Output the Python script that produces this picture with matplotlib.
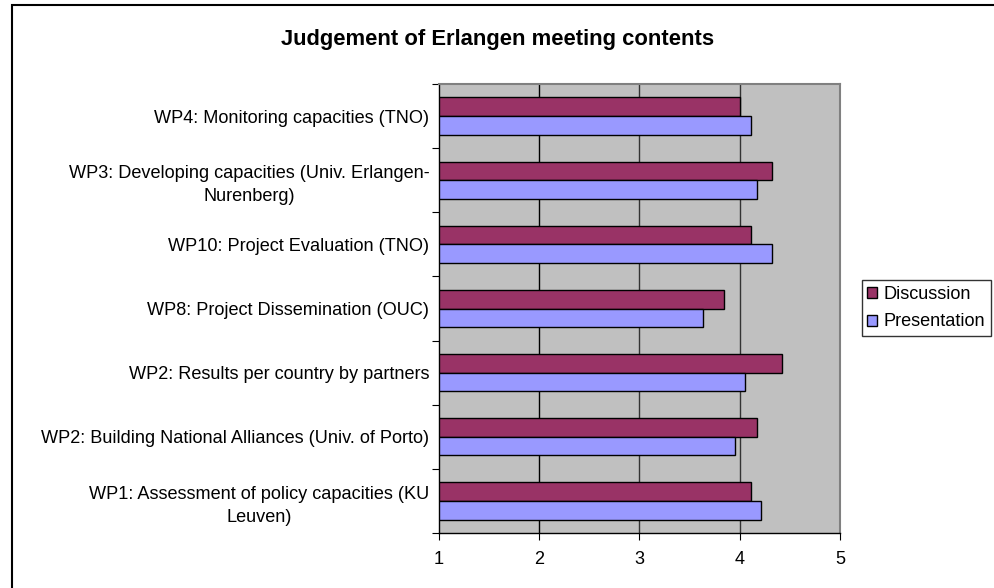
import numpy as np
import matplotlib.pyplot as plt
from matplotlib.patches import Rectangle, Patch

plt.rcParams['font.family'] = ['Liberation Sans', 'DejaVu Sans']

# work packages, bottom to top
labels = ['WP1: Assessment of policy capacities (KU\nLeuven)',
          'WP2: Building National Alliances (Univ. of Porto)',
          'WP2: Results per country by partners',
          'WP8: Project Dissemination (OUC)',
          'WP10: Project Evaluation (TNO)',
          'WP3: Developing capacities (Univ. Erlangen-\nNurenberg)',
          'WP4: Monitoring capacities (TNO)']
discussion = [4.11, 4.17, 4.42, 3.84, 4.11, 4.32, 4.00]
presentation = [4.21, 3.95, 4.05, 3.63, 4.32, 4.17, 4.11]
xticks = [1, 2, 3, 4, 5]

W, H = 995, 588
fs = 13.1
fig = plt.figure(figsize=(W / 100, H / 100), dpi=100)

# outer chart frame
fig.patches.append(Rectangle((12 / W, -0.05), 1.1, 1 - 5 / H + 0.05,
                             transform=fig.transFigure, fill=False,
                             edgecolor='black', linewidth=1.5, zorder=0))

ax = fig.add_axes([439 / W, 1 - 533 / H, 401 / W, 449 / H])
ax.set_facecolor('#C0C0C0')

y = np.arange(len(labels))
h = 0.29
ax.barh(y + h / 2, np.array(discussion) - 1, left=1, height=h,
        color='#993366', edgecolor='black', linewidth=1, zorder=3)
ax.barh(y - h / 2, np.array(presentation) - 1, left=1, height=h,
        color='#9999FF', edgecolor='black', linewidth=1, zorder=3)

ax.set_xlim(1, 5)
ax.set_ylim(-0.5, len(labels) - 0.5)
ax.set_xticks(xticks)
ax.set_xticklabels([str(t) for t in xticks], fontsize=fs)
ax.axvline(2, color='black', linewidth=1, zorder=1)
for gx in xticks[2:-1]:
    ax.axvline(gx, color='#333333', linewidth=1, zorder=1)

ax.set_yticks(np.arange(-0.5, len(labels), 1.0))
ax.set_yticklabels([])
ax.set_yticks(y, minor=True)
ax.set_yticklabels(labels, minor=True, fontsize=fs, ha='right',
                   multialignment='center', linespacing=1.45)
ax.tick_params(axis='y', which='minor', length=0, pad=7)
ax.tick_params(axis='y', which='major', length=5, direction='out')
ax.tick_params(axis='x', length=5, direction='out', pad=8)

for s in ['top', 'right']:
    ax.spines[s].set_color('#808080')
    ax.spines[s].set_linewidth(1.5)
for s in ['left', 'bottom']:
    ax.spines[s].set_color('black')
    ax.spines[s].set_linewidth(1)

fig.text(498 / W, 1 - 40 / H, 'Judgement of Erlangen meeting contents',
         ha='center', va='center', fontsize=15.8, fontweight='bold')

handles = [Patch(facecolor='#993366', edgecolor='black', label='Discussion'),
           Patch(facecolor='#9999FF', edgecolor='black', label='Presentation')]
leg = fig.legend(handles=handles, loc='center left',
                 bbox_to_anchor=(862 / W, 1 - 308 / H), fontsize=fs,
                 frameon=True, fancybox=False, handlelength=0.55,
                 handleheight=0.55, handletextpad=0.35, borderpad=0.3,
                 labelspacing=0.6, borderaxespad=0)
leg.get_frame().set_edgecolor('black')
leg.get_frame().set_linewidth(1)

fig.savefig('out.png', dpi=100)
